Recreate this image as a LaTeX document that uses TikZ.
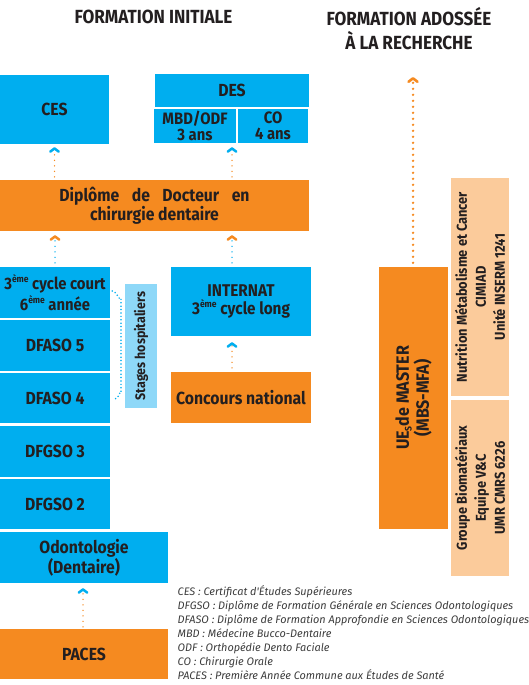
\documentclass[tikz,border=0pt]{standalone}
\usepackage{fontspec}
\setmainfont{Fira Sans}[FakeStretch=0.9]
\newfontfamily\legfont{Fira Sans}
\usetikzlibrary{arrows.meta,calc}
\definecolor{cblue}{HTML}{00AEEF}
\definecolor{corange}{HTML}{F58A20}
\definecolor{clblue}{HTML}{8ED8F8}
\definecolor{cpeach}{HTML}{FBCB9B}
\definecolor{ctext}{HTML}{231F20}
\definecolor{clegend}{HTML}{3C3C3C}
\newcommand{\eme}{\raisebox{0.42em}{\fontsize{9.5}{9.5}\selectfont ème}}
\begin{document}
\begin{tikzpicture}[x=1pt,y=-1pt,
  box/.style={inner sep=0pt, align=center, text=ctext, font=\bfseries\fontsize{17.5}{18}\selectfont},
  bbox/.style={box, fill=cblue},
  obox/.style={box, fill=corange},
  lbbox/.style={box, fill=clblue},
  pbox/.style={box, fill=cpeach},
  head/.style={inner sep=0pt, align=center, text=ctext, font=\bfseries\fontsize{19}{24}\selectfont},
  flowto/.style 2 args={draw=#1, line width=1.5pt, line cap=round, dash pattern=on 0pt off 5.5pt,
     -{Straight Barb[round, length=3.2pt, width=8.5pt, line width=2.5pt, color=#2]}},
  bigflow/.style={draw=corange, line width=2.6pt, line cap=round, dash pattern=on 0pt off 6pt,
     -{Straight Barb[round, length=3.5pt, width=9pt, line width=2.6pt, color=corange]}},
  bdots/.style={draw=cblue, line width=1.7pt, line cap=round, dash pattern=on 0pt off 3.4pt},
  legend/.style={inner sep=0pt, align=left, anchor=north west, text=clegend, font=\legfont\itshape\fontsize{10.9}{13.9}\selectfont}
]
\useasboundingbox (0,0) rectangle (528,685);

% headings
\node[head] (h1) at (153.5,17) {FORMATION INITIALE};
\node[head] (h2) at (409,29) {FORMATION ADOSSÉE\\À LA RECHERCHE};

% top row
\node[bbox, minimum width=109pt, minimum height=69pt] (ces) at (54.5,109.5) {CES};
\node[bbox, minimum width=154pt, minimum height=33pt] (des) at (232,90.5) {DES};
\node[bbox, minimum width=82pt, minimum height=34pt, font=\bfseries\fontsize{16.5}{16.5}\selectfont] (mbd) at (195,126) {MBD/ODF\\3 ans};
\node[bbox, minimum width=70pt, minimum height=34pt, font=\bfseries\fontsize{16.5}{16.5}\selectfont] (co) at (273,126) {CO\\4 ans};

% diploma
\node[obox, minimum width=309pt, minimum height=51pt, font=\bfseries\fontsize{17.5}{16}\selectfont] (dip) at (154.5,205.5)
  {Diplôme\hspace{12.5pt}de\hspace{12.5pt}Docteur\hspace{12.5pt}en\\chirurgie dentaire};

% left column
\node[bbox, minimum width=110pt, minimum height=51pt, font=\bfseries\fontsize{16.5}{20.5}\selectfont] (cyc) at (55,292.5) {3\eme{} cycle court\\6\eme{} année};
\node[bbox, minimum width=110pt, minimum height=51pt] (dfa5) at (55,345.5) {DFASO 5};
\node[bbox, minimum width=110pt, minimum height=50pt] (dfa4) at (55,398) {DFASO 4};
\node[bbox, minimum width=110pt, minimum height=51pt] (dfg3) at (55,451.5) {DFGSO 3};
\node[bbox, minimum width=110pt, minimum height=50pt] (dfg2) at (55,504) {DFGSO 2};
\node[bbox, minimum width=168pt, minimum height=51pt, font=\bfseries\fontsize{17.5}{20}\selectfont] (odo) at (84,557.5) {Odontologie\\(Dentaire)};
\node[obox, minimum width=168pt, minimum height=50pt] (paces) at (84,654) {PACES};

% stages
\node[lbbox, minimum width=32pt, minimum height=124pt] (stg) at (141,346) {};
\node[box, rotate=90, font=\bfseries\fontsize{13.8}{14}\selectfont] (stgt) at (stg.center) {Stages hospitaliers};

% internat
\node[bbox, minimum width=140pt, minimum height=69pt, font=\bfseries\fontsize{17}{18}\selectfont] (int) at (241,301.5) {INTERNAT\\3\eme{} cycle long};
\node[obox, minimum width=140pt, minimum height=51pt] (con) at (241,397.5) {Concours national};

% research
\node[obox, minimum width=69pt, minimum height=262pt] (mas) at (413.5,398) {};
\node[box, rotate=90, font=\bfseries\fontsize{17.8}{20}\selectfont] (mast) at (mas.center)
  {UE\raisebox{-0.3ex}{\fontsize{9.5}{9.5}\selectfont S}de MASTER\\(MBS-MFA)};
\node[pbox, minimum width=58pt, minimum height=218pt] (nut) at (480,287) {};
\node[box, rotate=90, font=\bfseries\fontsize{14.3}{19}\selectfont] (nutt) at (nut.center)
  {Nutrition Métabolisme et Cancer\\CIMIAD\\Unité INSERM 1241};
\node[pbox, minimum width=58pt, minimum height=176pt] (grp) at (480,488) {};
\node[box, rotate=90, font=\bfseries\fontsize{14.3}{19}\selectfont] (grpt) at (grp.center)
  {Groupe Biomatériaux\\Equipe V\&C\\UMR CMRS 6226};

% arrows
\draw[flowto={corange}{cblue}] ($(dip.north -| ces.south)+(0,-3)$) -- ($(ces.south)+(0,3)$);
\draw[flowto={corange}{cblue}] ($(dip.north -| des.south)+(0,-3)$) -- ($(mbd.south -| des.south)+(0,4)$);
\draw[flowto={cblue}{corange}] ($(cyc.north)+(0,-4)$) -- ($(dip.south -| cyc.north)+(0,4)$);
\draw[flowto={cblue}{corange}] ($(int.north -| des.south)+(0,-4)$) -- ($(dip.south -| des.south)+(0,4)$);
\draw[flowto={corange}{cblue}] ($(con.north -| des.south)+(0,-4)$) -- ($(int.south -| des.south)+(0,6)$);
\draw[flowto={corange}{cblue}] ($(paces.north)+(-1,-2)$) -- ($(odo.south)+(-1,5)$);
\coordinate (top) at (413,77);
\draw[bigflow] ($(mas.north)+(-0.5,-4)$) -- (top);

% bracket
\coordinate (b1) at ($(cyc.east)+(2,-1.5)$);
\coordinate (b2) at (121,299);
\coordinate (b3) at (121,392);
\coordinate (b4) at (115,399);
\draw[bdots] (b1) to[out=0,in=-90] (b2) -- (b3) to[out=90,in=0] (b4);

% legend
\node[legend] (leg) at (177.5,585.5) {CES : Certificat d'Études Supérieures\\
DFGSO : Diplôme de Formation Générale en Sciences Odontologiques\\
DFASO : Diplôme de Formation Approfondie en Sciences Odontologiques\\
MBD : Médecine Bucco-Dentaire\\
ODF : Orthopédie Dento Faciale\\
CO : Chirurgie Orale\\
PACES : Première Année Commune aux Études de Santé};
\end{tikzpicture}
\end{document}
